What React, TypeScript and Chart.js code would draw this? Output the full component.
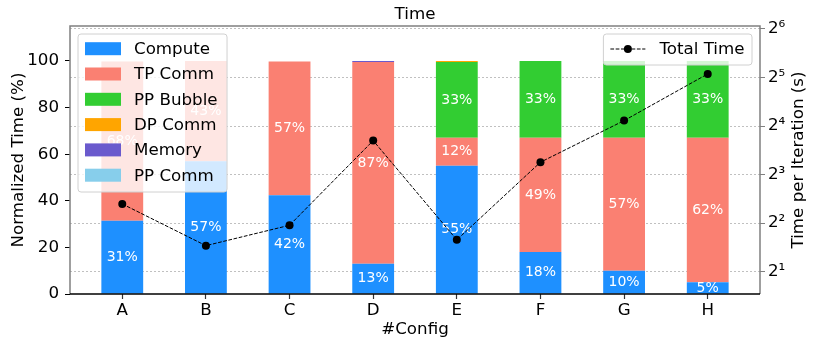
import { useEffect, useRef } from 'react';
import { Chart, registerables } from 'chart.js';

Chart.register(...registerables);

const categories = ['A', 'B', 'C', 'D', 'E', 'F', 'G', 'H'];
const compute = [31.4, 57, 42.4, 13, 55, 18, 10, 5];
const tpComm = [68.4, 43, 57.4, 86.5, 12, 49, 57, 62];
const ppBubble = [0, 0, 0, 0, 32.6, 33, 33, 33];
const dpComm = [0, 0, 0, 0, 0.4, 0, 0, 0];
const memory = [0, 0, 0, 0.5, 0, 0, 0, 0];
const ppComm = [0, 0, 0, 0, 0, 0, 0, 0];
const totalTime = [5.26, 2.9, 3.88, 13.0, 3.15, 9.55, 17.3, 33.7];
const leftTicks = [0, 20, 40, 60, 80, 100];
const rightTicks = [2, 4, 8, 16, 32, 64];
const seriesNames = ['Compute', 'TP Comm', 'PP Bubble', 'DP Comm', 'Memory', 'PP Comm'];
const seriesColors = ['#1E90FF', '#FA8072', '#32CD32', '#FFA500', '#6A5ACD', '#87CEEB'];
const seriesValues = [compute, tpComm, ppBubble, dpComm, memory, ppComm];

const FONT = '"DejaVu Sans"';
const FS = 16.7;
const SUP: Record<string, string> = { '0': '⁰', '1': '¹', '2': '²', '3': '³', '4': '⁴', '5': '⁵', '6': '⁶', '7': '⁷', '8': '⁸', '9': '⁹' };

const overlay = {
  id: 'overlay',
  afterDatasetDraw(chart: any, args: any) {
    const ds = chart.data.datasets[args.index];
    if (ds.type !== 'bar') return;
    const ctx = chart.ctx;
    ctx.save();
    ctx.font = `14px ${FONT}`;
    ctx.fillStyle = '#ffffff';
    ctx.textAlign = 'center';
    ctx.textBaseline = 'middle';
    args.meta.data.forEach((el: any, i: number) => {
      const v = ds.data[i].y;
      if (v < 3) return;
      const { x, y, base } = el.getProps(['x', 'y', 'base'], true);
      ctx.fillText(`${Math.round(v)}%`, x, (y + base) / 2);
    });
    ctx.restore();
  },
  afterDraw(chart: any) {
    const ctx = chart.ctx;
    const ca = chart.chartArea;
    ctx.save();
    // frame
    ctx.lineWidth = 1.5;
    ctx.strokeStyle = '#808080';
    ctx.beginPath();
    ctx.moveTo(ca.left, ca.bottom);
    ctx.lineTo(ca.left, ca.top);
    ctx.lineTo(ca.right, ca.top);
    ctx.lineTo(ca.right, ca.bottom);
    ctx.stroke();
    ctx.strokeStyle = '#000000';
    ctx.beginPath();
    ctx.moveTo(ca.left, ca.bottom);
    ctx.lineTo(ca.right, ca.bottom);
    ctx.stroke();

    ctx.font = `${FS}px ${FONT}`;
    // left legend
    const bx = ca.left + 8;
    const by = ca.top + 8;
    const textX = ca.left + 64;
    let maxW = 0;
    seriesNames.forEach((n) => { maxW = Math.max(maxW, ctx.measureText(n).width); });
    const bw = textX + maxW + 9.5 - bx;
    const bh = 158;
    const roundRect = (x: number, y: number, w: number, h: number, r: number) => {
      ctx.beginPath();
      ctx.moveTo(x + r, y);
      ctx.lineTo(x + w - r, y);
      ctx.arcTo(x + w, y, x + w, y + r, r);
      ctx.lineTo(x + w, y + h - r);
      ctx.arcTo(x + w, y + h, x + w - r, y + h, r);
      ctx.lineTo(x + r, y + h);
      ctx.arcTo(x, y + h, x, y + h - r, r);
      ctx.lineTo(x, y + r);
      ctx.arcTo(x, y, x + r, y, r);
      ctx.closePath();
    };
    roundRect(bx, by, bw, bh, 3);
    ctx.fillStyle = 'rgba(255,255,255,0.8)';
    ctx.fill();
    ctx.lineWidth = 1;
    ctx.strokeStyle = '#d0d0d0';
    ctx.stroke();
    ctx.textAlign = 'left';
    ctx.textBaseline = 'middle';
    seriesNames.forEach((n, k) => {
      const cy = ca.top + 22.7 + k * 25.3;
      ctx.fillStyle = seriesColors[k];
      ctx.fillRect(ca.left + 15, cy - 6.5, 36, 13);
      ctx.fillStyle = '#000';
      ctx.fillText(n, textX, cy + 1);
    });

    // right legend
    const label = 'Total Time';
    const tw = ctx.measureText(label).width;
    const rbw = 56 + tw + 7.5;
    const rbx = ca.right - 8 - rbw;
    const rby = ca.top + 8;
    roundRect(rbx, rby, rbw, 31, 3);
    ctx.fillStyle = 'rgba(255,255,255,0.8)';
    ctx.fill();
    ctx.strokeStyle = '#d0d0d0';
    ctx.stroke();
    const ly = rby + 15;
    ctx.strokeStyle = '#000';
    ctx.lineWidth = 1;
    ctx.setLineDash([3.7, 1.6]);
    ctx.beginPath();
    ctx.moveTo(rbx + 7, ly);
    ctx.lineTo(rbx + 42, ly);
    ctx.stroke();
    ctx.setLineDash([]);
    ctx.fillStyle = '#000';
    ctx.beginPath();
    ctx.arc(rbx + 24.5, ly, 4, 0, Math.PI * 2);
    ctx.fill();
    ctx.fillText(label, rbx + 56, ly + 1);

    // titles
    const cx = (ca.left + ca.right) / 2;
    const cyMid = (ca.top + ca.bottom) / 2;
    ctx.textAlign = 'center';
    ctx.textBaseline = 'alphabetic';
    ctx.fillText('Time', cx, 19);
    ctx.fillText('#Config', cx, 334);
    ctx.save();
    ctx.translate(23, cyMid);
    ctx.rotate(-Math.PI / 2);
    ctx.fillText('Normalized Time (%)', 0, 0);
    ctx.restore();
    ctx.save();
    ctx.translate(802.5, cyMid);
    ctx.rotate(-Math.PI / 2);
    ctx.fillText('Time per Iteration (s)', 0, 0);
    ctx.restore();
    ctx.restore();
  },
};

export default function App() {
  const ref = useRef<HTMLCanvasElement | null>(null);
  useEffect(() => {
    document.body.style.margin = '0';
    const canvas = ref.current;
    if (!canvas) return;
    const barSets = seriesNames.map((n, k) => ({
      type: 'bar' as const,
      label: n,
      data: seriesValues[k].map((v, i) => ({ x: i, y: v })),
      backgroundColor: seriesColors[k],
      borderWidth: 0,
      yAxisID: 'y',
      xAxisID: 'x',
      stack: 's',
      categoryPercentage: 1,
      barPercentage: 0.5,
      order: 0,
    }));
    const lineSet = {
      type: 'line' as const,
      label: 'Total Time',
      data: totalTime.map((v, i) => ({ x: i, y: v })),
      borderColor: '#000',
      borderWidth: 1,
      borderDash: [3.7, 1.6],
      pointRadius: 4,
      pointBackgroundColor: '#000',
      pointBorderWidth: 0,
      fill: false,
      yAxisID: 'y2',
      xAxisID: 'x',
      order: -1,
    };
    const tickFont = { family: FONT, size: FS };
    const chart = new Chart(canvas, {
      type: 'bar',
      data: { datasets: [lineSet as any, ...barSets] },
      options: {
        responsive: false,
        animation: false,
        devicePixelRatio: 1,
        layout: { padding: { top: 26, left: 0, right: 0, bottom: 0 } },
        plugins: { legend: { display: false }, tooltip: { enabled: false }, title: { display: false } },
        scales: {
          x: {
            type: 'linear',
            position: 'bottom',
            min: -0.625,
            max: 7.625,
            stacked: true,
            offset: false,
            afterBuildTicks: (s: any) => { s.ticks = categories.map((_, i) => ({ value: i })); },
            afterFit: (s: any) => { s.height = 54; },
            ticks: {
              font: tickFont,
              color: '#000',
              padding: 2,
              stepSize: 1,
              includeBounds: false,
              maxRotation: 0,
              autoSkip: false,
              callback: (v: any) => categories[Number(v)] ?? '',
            },
            grid: {
              display: true,
              drawOnChartArea: false,
              drawTicks: true,
              tickLength: 5,
              tickColor: '#333333',
              tickWidth: 1.2,
              offset: false,
            },
            border: { display: false },
          },
          y: {
            type: 'linear',
            position: 'left',
            min: 0,
            max: 115,
            stacked: true,
            afterBuildTicks: (s: any) => { s.ticks = leftTicks.map((v) => ({ value: v })); },
            afterFit: (s: any) => { s.width = 70; },
            ticks: { font: tickFont, color: '#000', padding: 6, stepSize: 20, includeBounds: false },
            grid: { drawOnChartArea: false, drawTicks: true, tickLength: 5, tickColor: '#000' },
            border: { display: false },
          },
          y2: {
            type: 'logarithmic',
            position: 'right',
            min: 1.454,
            max: 66.8,
            afterBuildTicks: (s: any) => { s.ticks = rightTicks.map((v) => ({ value: v })); },
            afterFit: (s: any) => { s.width = 70; },
            ticks: {
              font: tickFont,
              color: '#000',
              padding: 3,
              autoSkip: false,
              callback: (v: any) => {
                const e = String(Math.round(Math.log2(Number(v))));
                return '2' + e.split('').map((c) => SUP[c]).join('');
              },
            },
            grid: {
              drawOnChartArea: true,
              color: '#b0b0b0',
              lineWidth: 0.8,
              drawTicks: true,
              tickLength: 5,
              tickColor: '#808080',
              tickWidth: 1,
            },
            border: { display: false, dash: [2, 2] },
          },
        },
      },
      plugins: [overlay],
    });
    return () => chart.destroy();
  }, []);
  return (
    <div style={{ width: 830, height: 348 }}>
      <canvas ref={ref} width={830} height={348} style={{ display: 'block' }} />
    </div>
  );
}
